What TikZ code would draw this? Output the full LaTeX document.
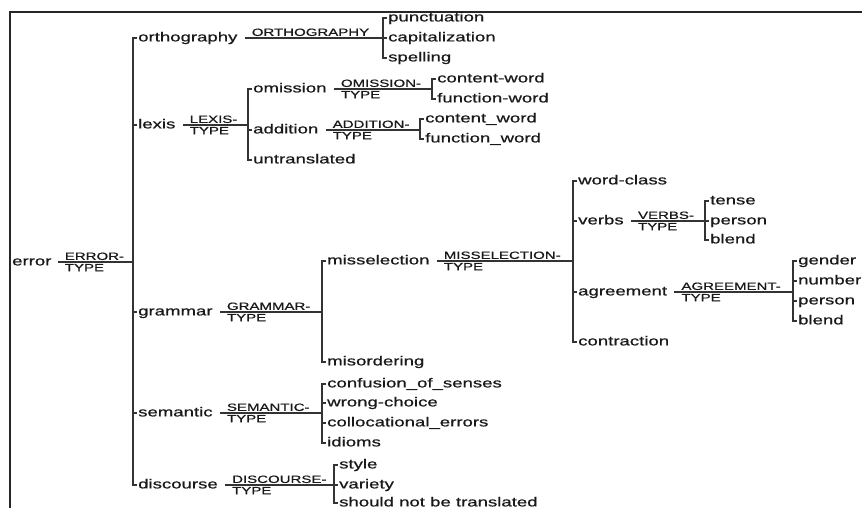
\documentclass[tikz,border=0pt]{standalone}
\usepackage{fontspec}
\setmainfont[FakeStretch=1.43, FakeBold=0.8]{Liberation Sans}
\usepackage{tikz}

\begin{document}
\begin{tikzpicture}[x = 1pt, y = -1pt,
        word/.style = {anchor = west, inner xsep = 1pt, inner ysep = 0pt, text height = 9.5pt, text depth = 2.7pt, font = \fontsize{13}{15}\selectfont, text = black!90},
        kind/.style = {inner xsep = 0pt, inner ysep = 1.8pt, font = \fontsize{10.5}{12}\selectfont, text = black!90},
        branch/.style = {black!80, line width = 1.2pt}]
        \useasboundingbox (0,0) rectangle (862,508);
        \draw [black!85, line width = 1.5pt] (10,508) -- (10,12) -- (862,12);
        
        \node [word] (error) at (11,262) {error};
        \coordinate (errj) at (133,262);
        \draw [branch] ([xshift = 5pt]error.east) coordinate (errs) -- (errj);
        \node [kind, anchor = south west] (errup) at ([xshift = 7pt]errs) {ERROR-};
        \node [kind, anchor = north west] (errdown) at ([xshift = 7pt]errs) {TYPE};
        
        \node [word] (orth) at (137,38) {orthography};
        \node [word] (lexis) at (137,125) {lexis};
        \node [word] (gram) at (137,312) {grammar};
        \node [word] (sem) at (137,413) {semantic};
        \node [word] (disc) at (137,485) {discourse};
        \draw [branch] (orth.west) -- (errj |- orth) -- (errj |- disc) -- (disc.west);
        \draw [branch] (errj |- lexis) -- (lexis.west);
        \draw [branch] (errj |- gram) -- (gram.west);
        \draw [branch] (errj |- sem) -- (sem.west);
        
        \coordinate (orthj) at (383,38);
        \draw [branch] ([xshift = 6pt]orth.east) coordinate (orths) -- (orthj);
        \node [kind, anchor = south west] (orthup) at ([xshift = 7pt]orths) {ORTHOGRAPHY};
        \node [word] (punct) at (387,18) {punctuation};
        \node [word] (capital) at (387,38) {capitalization};
        \node [word] (spell) at (387,58) {spelling};
        \draw [branch] (punct.west) -- (orthj |- punct) -- (orthj |- spell) -- (spell.west);
        \draw [branch] (orthj |- capital) -- (capital.west);
        
        \coordinate (lexj) at (248,125);
        \draw [branch] ([xshift = 6pt]lexis.east) coordinate (lexs) -- (lexj);
        \node [kind, anchor = south west] (lexup) at ([xshift = 7pt]lexs) {LEXIS-};
        \node [kind, anchor = north west] (lexdown) at ([xshift = 7pt]lexs) {TYPE};
        \node [word] (omis) at (252,89) {omission};
        \node [word] (addit) at (252,130) {addition};
        \node [word] (untrans) at (252,160) {untranslated};
        \draw [branch] (omis.west) -- (lexj |- omis) -- (lexj |- untrans) -- (untrans.west);
        \draw [branch] (lexj |- addit) -- (addit.west);
        
        \coordinate (omisj) at (432,89);
        \draw [branch] ([xshift = 6pt]omis.east) coordinate (omiss) -- (omisj);
        \node [kind, anchor = south west] (omisup) at ([xshift = 7pt]omiss) {OMISSION-};
        \node [kind, anchor = north west] (omisdown) at ([xshift = 7pt]omiss) {TYPE};
        \node [word] (omcont) at (436,79) {content-word};
        \node [word] (omfunc) at (436,99) {function-word};
        \draw [branch] (omcont.west) -- (omisj |- omcont) -- (omisj |- omfunc) -- (omfunc.west);
        
        \coordinate (additj) at (420,130);
        \draw [branch] ([xshift = 6pt]addit.east) coordinate (addits) -- (additj);
        \node [kind, anchor = south west] (additup) at ([xshift = 7pt]addits) {ADDITION-};
        \node [kind, anchor = north west] (additdown) at ([xshift = 7pt]addits) {TYPE};
        \node [word] (adcont) at (424,119) {content\_word};
        \node [word] (adfunc) at (424,139) {function\_word};
        \draw [branch] (adcont.west) -- (additj |- adcont) -- (additj |- adfunc) -- (adfunc.west);
        
        \coordinate (gramj) at (322,312);
        \draw [branch] ([xshift = 6pt]gram.east) coordinate (grams) -- (gramj);
        \node [kind, anchor = south west] (gramup) at ([xshift = 7pt]grams) {GRAMMAR-};
        \node [kind, anchor = north west] (gramdown) at ([xshift = 7pt]grams) {TYPE};
        \node [word] (missel) at (326,261) {misselection};
        \node [word] (misord) at (326,362) {misordering};
        \draw [branch] (missel.west) -- (gramj |- missel) -- (gramj |- misord) -- (misord.west);
        
        \coordinate (misselj) at (573,261);
        \draw [branch] ([xshift = 6pt]missel.east) coordinate (missels) -- (misselj);
        \node [kind, anchor = south west] (misselup) at ([xshift = 7pt]missels) {MISSELECTION-};
        \node [kind, anchor = north west] (misseldown) at ([xshift = 7pt]missels) {TYPE};
        \node [word] (wclass) at (577,181) {word-class};
        \node [word] (verbs) at (577,221) {verbs};
        \node [word] (agree) at (577,292) {agreement};
        \node [word] (contr) at (577,342) {contraction};
        \draw [branch] (wclass.west) -- (misselj |- wclass) -- (misselj |- contr) -- (contr.west);
        \draw [branch] (misselj |- verbs) -- (verbs.west);
        \draw [branch] (misselj |- agree) -- (agree.west);
        
        \coordinate (verbsj) at (705,221);
        \draw [branch] ([xshift = 6pt]verbs.east) coordinate (verbss) -- (verbsj);
        \node [kind, anchor = south west] (verbsup) at ([xshift = 7pt]verbss) {VERBS-};
        \node [kind, anchor = north west] (verbsdown) at ([xshift = 7pt]verbss) {TYPE};
        \node [word] (tense) at (709,201) {tense};
        \node [word] (vperson) at (709,221) {person};
        \node [word] (vblend) at (709,240) {blend};
        \draw [branch] (tense.west) -- (verbsj |- tense) -- (verbsj |- vblend) -- (vblend.west);
        \draw [branch] (verbsj |- vperson) -- (vperson.west);
        
        \coordinate (agreej) at (793,292);
        \draw [branch] ([xshift = 6pt]agree.east) coordinate (agrees) -- (agreej);
        \node [kind, anchor = south west] (agreeup) at ([xshift = 7pt]agrees) {AGREEMENT-};
        \node [kind, anchor = north west] (agreedown) at ([xshift = 7pt]agrees) {TYPE};
        \node [word] (gender) at (797,261) {gender};
        \node [word] (number) at (797,281) {number};
        \node [word] (aperson) at (797,301) {person};
        \node [word] (ablend) at (797,321) {blend};
        \draw [branch] (gender.west) -- (agreej |- gender) -- (agreej |- ablend) -- (ablend.west);
        \draw [branch] (agreej |- number) -- (number.west);
        \draw [branch] (agreej |- aperson) -- (aperson.west);
        
        \coordinate (semj) at (322,413);
        \draw [branch] ([xshift = 6pt]sem.east) coordinate (sems) -- (semj);
        \node [kind, anchor = south west] (semup) at ([xshift = 7pt]sems) {SEMANTIC-};
        \node [kind, anchor = north west] (semdown) at ([xshift = 7pt]sems) {TYPE};
        \node [word] (confus) at (326,384) {confusion\_of\_senses};
        \node [word] (wrong) at (326,403) {wrong-choice};
        \node [word] (colloc) at (326,423) {collocational\_errors};
        \node [word] (idioms) at (326,443) {idioms};
        \draw [branch] (confus.west) -- (semj |- confus) -- (semj |- idioms) -- (idioms.west);
        \draw [branch] (semj |- wrong) -- (wrong.west);
        \draw [branch] (semj |- colloc) -- (colloc.west);
        
        \coordinate (discj) at (334,485);
        \draw [branch] ([xshift = 6pt]disc.east) coordinate (discs) -- (discj);
        \node [kind, anchor = south west] (discup) at ([xshift = 7pt]discs) {DISCOURSE-};
        \node [kind, anchor = north west] (discdown) at ([xshift = 7pt]discs) {TYPE};
        \node [word] (style) at (338,465) {style};
        \node [word] (variety) at (338,485) {variety};
        \node [word] (shouldnot) at (338,503) {should not be translated};
        \draw [branch] (style.west) -- (discj |- style) -- (discj |- shouldnot) -- (shouldnot.west);
        \draw [branch] (discj |- variety) -- (variety.west);
    \end{tikzpicture}
\end{document}
